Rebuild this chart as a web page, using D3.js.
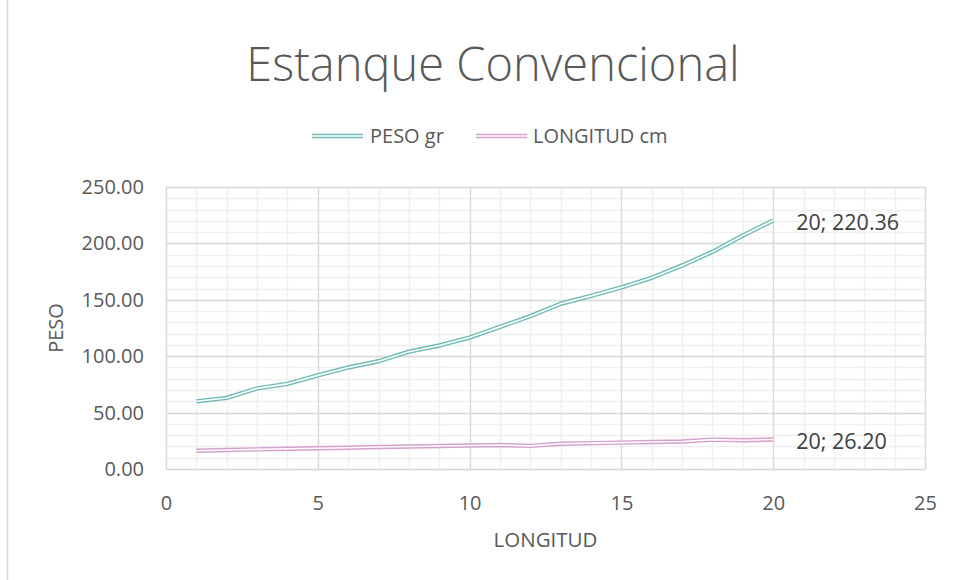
<!DOCTYPE html>
<html>
<head>
<meta charset="utf-8">
<script src="https://cdn.jsdelivr.net/npm/d3@7"></script>
<style>
  html, body { margin: 0; padding: 0; background: #fff; }
  svg { display: block; font-family: "Open Sans", sans-serif; }
</style>
</head>
<body>
<svg id="chart" width="954" height="580"></svg>
<script>
// Sample index (x) and the two measured series
const longitudIndex = [1, 2, 3, 4, 5, 6, 7, 8, 9, 10, 11, 12, 13, 14, 15, 16, 17, 18, 19, 20];
const pesoGr = [60.0, 63.0, 71.5, 75.5, 83.0, 90.0, 95.5, 104.0, 109.5, 116.5,
                126.0, 135.5, 146.5, 153.5, 161.0, 169.5, 180.5, 192.5, 207.0, 220.36];
const longitudCm = [16.2, 16.9, 17.4, 18.0, 18.4, 18.9, 19.5, 20.0, 20.4, 20.8,
                    21.3, 20.5, 22.4, 22.9, 23.4, 23.9, 24.4, 26.0, 25.5, 26.20];
const xTicks = [0, 5, 10, 15, 20, 25];
const yTicks = [0, 50, 100, 150, 200, 250];
const seriesNames = ["PESO gr", "LONGITUD cm"];
const seriesColors = ["#6fbcb7", "#d69fcd"];

const svg = d3.select("#chart");
const margin = { left: 166, right: 954 - 925, top: 187, bottom: 580 - 469 };
const W = 954, H = 580;

const x = d3.scaleLinear().domain([0, 25]).range([margin.left, W - margin.right]);
const y = d3.scaleLinear().domain([0, 250]).range([H - margin.bottom, margin.top]);

// outer chart frame (left edge)
svg.append("line").attr("x1", 7.5).attr("x2", 7.5).attr("y1", 0).attr("y2", H)
  .attr("stroke", "#d9d9d9").attr("stroke-width", 1.5);

// minor grid
const g = svg.append("g");
g.selectAll(".vminor").data(d3.range(0, 26, 1)).join("line")
  .attr("x1", d => Math.round(x(d)) + 0.5).attr("x2", d => Math.round(x(d)) + 0.5)
  .attr("y1", y(0)).attr("y2", y(250))
  .attr("stroke", "#f0f0f0").attr("stroke-width", 1.5);
g.selectAll(".hminor").data(d3.range(0, 251, 10)).join("line")
  .attr("y1", d => Math.round(y(d)) + 0.5).attr("y2", d => Math.round(y(d)) + 0.5)
  .attr("x1", x(0)).attr("x2", x(25))
  .attr("stroke", "#f0f0f0").attr("stroke-width", 1.5);
// major grid
g.selectAll(".vmajor").data(xTicks).join("line")
  .attr("x1", d => Math.round(x(d)) + 0.5).attr("x2", d => Math.round(x(d)) + 0.5)
  .attr("y1", y(0)).attr("y2", y(250))
  .attr("stroke", "#d9d9d9").attr("stroke-width", 1.3);
g.selectAll(".hmajor").data(yTicks).join("line")
  .attr("y1", d => Math.round(y(d)) + 0.5).attr("y2", d => Math.round(y(d)) + 0.5)
  .attr("x1", x(0)).attr("x2", x(25))
  .attr("stroke", "#d9d9d9").attr("stroke-width", 1.3);

// axes
const yAxis = svg.append("g").attr("transform", `translate(${x(0)},0)`)
  .call(d3.axisLeft(y).tickValues(yTicks).tickFormat(d3.format(".2f")).tickSize(0).tickPadding(22));
const xAxis = svg.append("g").attr("transform", `translate(0,${y(0)})`)
  .call(d3.axisBottom(x).tickValues(xTicks).tickFormat(d3.format("d")).tickSize(0).tickPadding(27));
[yAxis, xAxis].forEach(a => {
  a.select(".domain").remove();
  a.selectAll("text").attr("fill", "#595959").style("font-size", "20px")
    .style("font-family", "'Open Sans', sans-serif");
});

// axis titles
svg.append("text").attr("x", x(12.5)).attr("y", 547).attr("text-anchor", "middle")
  .attr("fill", "#595959").style("font-size", "20.5px").text("LONGITUD");
svg.append("text").attr("transform", `translate(63,${(y(0) + y(250)) / 2}) rotate(-90)`)
  .attr("text-anchor", "middle").attr("fill", "#595959").style("font-size", "20px").text("PESO");

// title
svg.append("text").attr("x", 493).attr("y", 81).attr("text-anchor", "middle")
  .attr("fill", "#595959").style("font-size", "47px").style("font-weight", 300)
  .text("Estanque Convencional");

// double-stroke line helper
const line = d3.line().x((d, i) => x(longitudIndex[i])).y(d => y(d));
function doubleLine(parent, data, color) {
  parent.append("path").attr("d", line(data)).attr("fill", "none")
    .attr("stroke", color).attr("stroke-width", 4.4).attr("stroke-linejoin", "round");
  parent.append("path").attr("d", line(data)).attr("fill", "none")
    .attr("stroke", "#ffffff").attr("stroke-width", 1.6).attr("stroke-linejoin", "round");
}
const series = [pesoGr, longitudCm];
series.forEach((s, i) => doubleLine(svg.append("g"), s, seriesColors[i]));

// end-point labels
series.forEach((s, i) => {
  const last = s.length - 1;
  svg.append("text").attr("x", x(longitudIndex[last]) + 23).attr("y", y(s[last]) + 2)
    .attr("dy", "0.35em").attr("fill", "#404040").style("font-size", "21.5px")
    .text(`${longitudIndex[last]}; ${d3.format(".2f")(s[last])}`);
});

// legend
const legendItems = [{ x0: 312, tx: 370 }, { x0: 476, tx: 533 }];
legendItems.forEach((it, i) => {
  const lg = svg.append("g");
  const ly = 136;
  lg.append("line").attr("x1", it.x0).attr("x2", it.x0 + 51).attr("y1", ly).attr("y2", ly)
    .attr("stroke", seriesColors[i]).attr("stroke-width", 4.4);
  lg.append("line").attr("x1", it.x0).attr("x2", it.x0 + 51).attr("y1", ly).attr("y2", ly)
    .attr("stroke", "#fff").attr("stroke-width", 1.6);
  lg.append("text").attr("x", it.tx).attr("y", ly).attr("dy", "0.35em")
    .attr("fill", "#595959").style("font-size", "20px").text(seriesNames[i]);
});
</script>
</body>
</html>
